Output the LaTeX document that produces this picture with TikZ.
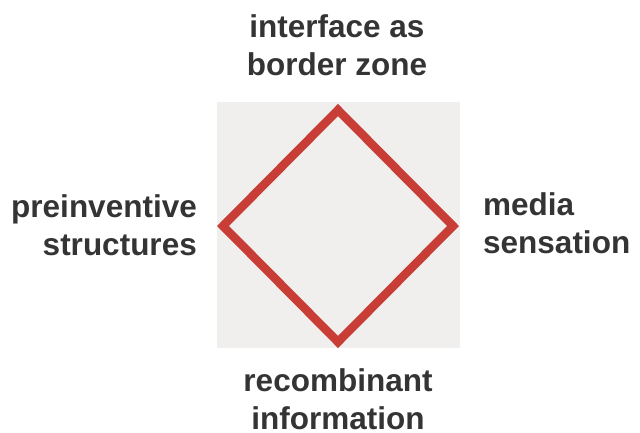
\documentclass[tikz,border=0pt]{standalone}
\usepackage{fontspec}
\setmainfont{Liberation Sans}
\definecolor{diamondred}{RGB}{200,62,55}
\definecolor{panelgray}{RGB}{241,239,237}
\definecolor{labelgray}{RGB}{52,52,52}
\tikzset{
	label text/.style={font=\bfseries\fontsize{31.5}{38}\selectfont, text=labelgray, inner sep=0pt}
}

\begin{document}
\begin{tikzpicture}[x=1pt, y=-1pt]
			%%%%% START %%%%%
			
			\useasboundingbox (0, 0) rectangle (640, 432);
			
			\fill[panelgray] (217, 102) rectangle (460, 348);
			
			\draw[line width=8.5pt, color=diamondred, line join=miter] (338, 110) -- (453, 226) -- (338, 342) -- (223, 226) -- cycle;
			
			\node[label text, anchor=north, align=center] (iface) at (337, 14) {interface as\\border zone};
			\node[label text, anchor=north east, align=right] (preinv) at (197, 194) {preinventive\\structures};
			\node[label text, anchor=north west, align=left] (media) at (483, 192) {media\\sensation};
			\node[label text, anchor=north, align=center] (recomb) at (338, 368) {recombinant\\information};
			
			%%%%% END %%%%%
\end{tikzpicture}
\end{document}
